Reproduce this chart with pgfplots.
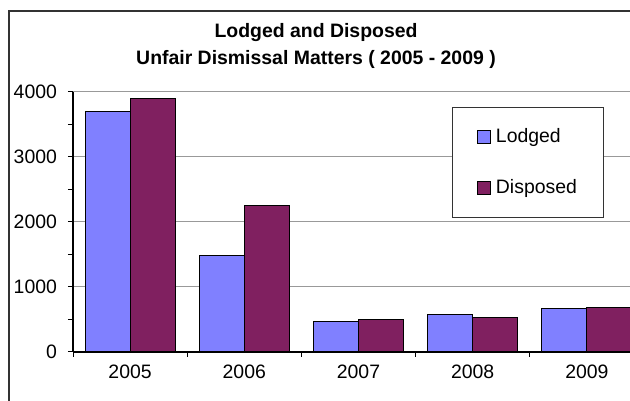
\documentclass[border=0pt]{standalone}
\usepackage{fontspec}
\setmainfont{Liberation Sans}
\usepackage{pgfplots}
\pgfplotsset{compat=1.18}
\definecolor{lodged}{HTML}{8080FF}
\definecolor{disposed}{HTML}{802060}
\begin{document}
\begin{tikzpicture}
\path[use as bounding box, clip] (0,0) rectangle (315bp,200.5bp);
\fill[white] (0,0) rectangle (315bp,200.5bp);
\begin{axis}[
  at={(36.5bp,24.5bp)}, anchor=south west,
  scale only axis, width=285.5bp, height=130bp,
  xmin=-0.5, xmax=4.5, ymin=0, ymax=4000,
  ybar=0pt, bar width=22.5bp,
  axis x line*=bottom, axis y line*=left,
  ytick={0,1000,2000,3000,4000}, minor ytick={500,1500,2500,3500},
  ymajorgrids, major grid style={black!40, line width=0.5bp},
  xtick={-0.5,0.5,1.5,2.5,3.5,4.5}, xticklabels={},
  extra x ticks={0,1,2,3,4}, extra x tick labels={2005,2006,2007,2008,2009},
  extra x tick style={major tick length=0pt, grid=none, tick label style={yshift=-2.75bp}},
  tick align=outside, major tick length=2.5bp, minor tick length=2.5bp,
  tick style={black, line width=0.5bp},
  axis line style={black, line width=0.75bp},
  /pgf/number format/assume math mode=true,
  scaled y ticks=false,
  y tick label style={/pgf/number format/1000 sep={}, xshift=-2bp},
  tick label style={font=\fontsize{9.75}{11}\selectfont},
  title={Lodged and Disposed\\Unfair Dismissal Matters ( 2005 - 2009 )},
  title style={at={(0.4256,1)}, anchor=south, yshift=5.75bp, align=center, font=\bfseries\fontsize{9.75}{13.5}\selectfont, inner sep=0pt},
  legend style={at={(0.6637,0.9423)}, anchor=north west, draw=black!80, line width=0.5bp, fill=white,
    inner xsep=12.25bp, inner ysep=9.35bp, row sep=15bp,
    font=\fontsize{9.75}{11}\selectfont, cells={anchor=west}, nodes={inner sep=1bp}},
  mylegend/.style={legend image code/.code={\draw[##1, draw=black, line width=0.5bp] (0bp,-3.25bp) rectangle (6.5bp,3.25bp); \path (8bp,0bp);}},
]
\addplot[fill=lodged, draw=black, line width=0.5bp, mylegend] coordinates {(0,3700) (1,1480) (2,470) (3,570) (4,665)};
\addplot[fill=disposed, draw=black, line width=0.5bp, mylegend] coordinates {(0,3895) (1,2250) (2,495) (3,525) (4,690)};
\legend{Lodged, Disposed}
\end{axis}
\draw[black!80, line width=0.6bp] (4.5bp,-5bp) -- (4.5bp,195bp) -- (330bp,195bp);
\end{tikzpicture}
\end{document}
